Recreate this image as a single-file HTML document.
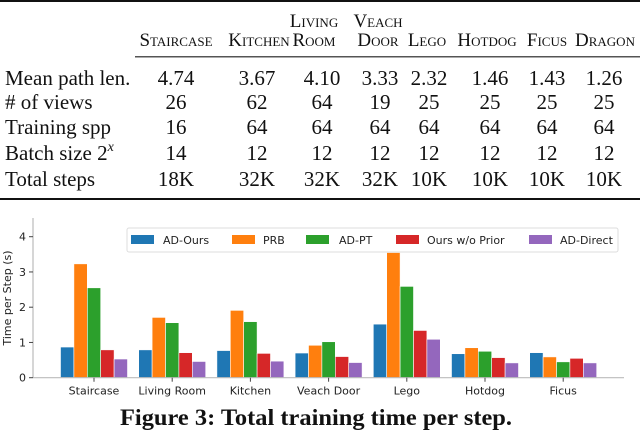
<!DOCTYPE html>
<html><head><meta charset="utf-8"><style>
html,body{margin:0;padding:0;background:#fff;width:640px;height:432px;overflow:hidden}
svg{display:block}
.tb{font-family:"Liberation Serif",serif;font-size:21px;fill:#111}
.hd{font-family:"Liberation Serif",serif;font-size:19px;font-variant:small-caps;fill:#111}
.ax{font-family:"DejaVu Sans","Liberation Sans",sans-serif;font-size:11px;fill:#222}
</style></head><body>
<svg id="fig" width="640" height="432" viewBox="0 0 640 432" xmlns="http://www.w3.org/2000/svg">
<g id="table">
<rect x="0" y="0" width="640" height="2" fill="#111"/>
<rect x="135" y="56" width="505" height="1.5" fill="#555"/>
<rect x="0" y="198" width="640" height="2" fill="#111"/>
</g>
<g id="chart"></g>
<text x="316" y="425" text-anchor="middle" font-family="Liberation Serif,serif" font-weight="bold" font-size="23" textLength="392" lengthAdjust="spacingAndGlyphs" fill="#111">Figure 3: Total training time per step.</text>
</svg>
<script>
const NS='http://www.w3.org/2000/svg';
// table data
const colNames=[["","Staircase"],["","Kitchen"],["Living","Room"],["Veach","Door"],["","Lego"],["","Hotdog"],["","Ficus"],["","Dragon"]];
const rowLabels=["Mean path len.","# of views","Training spp","Batch size 2","Total steps"];
const rowMean=["4.74","3.67","4.10","3.33","2.32","1.46","1.43","1.26"];
const rowViews=["26","62","64","19","25","25","25","25"];
const rowSpp=["16","64","64","64","64","64","64","64"];
const rowBatch=["14","12","12","12","12","12","12","12"];
const rowSteps=["18K","32K","32K","32K","10K","10K","10K","10K"];
// chart data
const categories=["Staircase","Living Room","Kitchen","Veach Door","Lego","Hotdog","Ficus"];
const seriesNames=["AD-Ours","PRB","AD-PT","Ours w/o Prior","AD-Direct"];
const adOurs=[0.87,0.79,0.77,0.70,1.52,0.68,0.71];
const prb=[3.23,1.71,1.91,0.92,3.55,0.85,0.59];
const adPT=[2.55,1.56,1.59,1.02,2.59,0.75,0.45];
const oursNoPrior=[0.79,0.71,0.69,0.60,1.34,0.57,0.55];
const adDirect=[0.53,0.46,0.47,0.43,1.09,0.42,0.42];
const yTicks=[0,1,2,3,4];
const colors=["#1f77b4","#ff7f0e","#2ca02c","#d62728","#9467bd"];

function el(tag,attrs,parent,txt){const e=document.createElementNS(NS,tag);for(const k in attrs)e.setAttribute(k,attrs[k]);if(txt!==undefined)e.textContent=txt;parent.appendChild(e);return e;}
const table=document.getElementById('table');
const colX=[176,259,314,378,427,487,547,605];
const valX=[176,257,322,380,429,490,547,604];
colNames.forEach((c,i)=>{
  if(c[0]){const t=el('text',{x:colX[i],y:27,'text-anchor':'middle',class:'hd'},table,c[0]);
    
    }
  const t=el('text',{x:colX[i],y:46,'text-anchor':'middle',class:'hd'},table,c[1]);
  
  
});
const rows=[rowMean,rowViews,rowSpp,rowBatch,rowSteps];
const rowY=[85,109,134,160,186];
rows.forEach((r,ri)=>{
  const lab=el('text',{x:5,y:rowY[ri],class:'tb'},table,rowLabels[ri]);
  
  
  if(ri===3){el('tspan',{dy:-9,'font-size':14,'font-style':'italic'},lab,'x');}
  r.forEach((v,ci)=>{const t=el('text',{x:valX[ci],y:rowY[ri],'text-anchor':'middle',class:'tb'},table,v);
    
    });
});

// chart
const chart=document.getElementById('chart');
const x0=33,x1=624,yTop=218,yBase=377.7,unit=35.25;
const cat0=94,catStep=78.2,barW=13.4;
const yS=v=>yBase-v*unit;
const xC=i=>cat0+i*catStep;
const axY=el('line',{x1:x0,y1:yTop,x2:x0,y2:yBase,stroke:'#bbb','stroke-width':1.2},chart);


yTicks.forEach(v=>{
  el('line',{x1:x0-4,y1:yS(v),x2:x0,y2:yS(v),stroke:'#444'},chart);
  const t=el('text',{x:x0-7,y:yS(v)+4,'text-anchor':'end',class:'ax'},chart,String(v));
  
  
});
const yl=el('text',{x:0,y:0,transform:'translate(11,298) rotate(-90)','text-anchor':'middle',class:'ax','font-size':10.5},chart,'Time per Step (s)');


const series=[adOurs,prb,adPT,oursNoPrior,adDirect];
series.forEach((s,si)=>{
  s.forEach((v,ci)=>{
    const x=xC(ci)+(si-2.5)*barW;
    const r=el('rect',{x:x,y:yS(v),width:barW,height:v*unit,fill:colors[si],stroke:'#fff','stroke-width':0.6},chart);
    
    
  });
});
const axX=el('line',{x1:x0,y1:yBase,x2:x1,y2:yBase,stroke:'#bbb','stroke-width':1.2},chart);


categories.forEach((c,i)=>{
  el('line',{x1:xC(i),y1:yBase,x2:xC(i),y2:yBase+4,stroke:'#444'},chart);
  const t=el('text',{x:xC(i),y:yBase+17,'text-anchor':'middle',class:'ax'},chart,c);
  
  
});
// legend
const lg=el('g',{},chart);


el('rect',{x:127,y:228,width:491,height:24,rx:2,fill:'#fff','fill-opacity':0.85,stroke:'#ddd'},lg);
const patchX=[131,232,306,396,529],textX=[163,263,339,427,560];
seriesNames.forEach((n,i)=>{
  const p=el('rect',{x:patchX[i],y:235,width:23,height:9,fill:colors[i]},lg);
  
  
  const t=el('text',{x:textX[i],y:244,class:'ax'},lg,n);
  
  
});
</script>
</body></html>
